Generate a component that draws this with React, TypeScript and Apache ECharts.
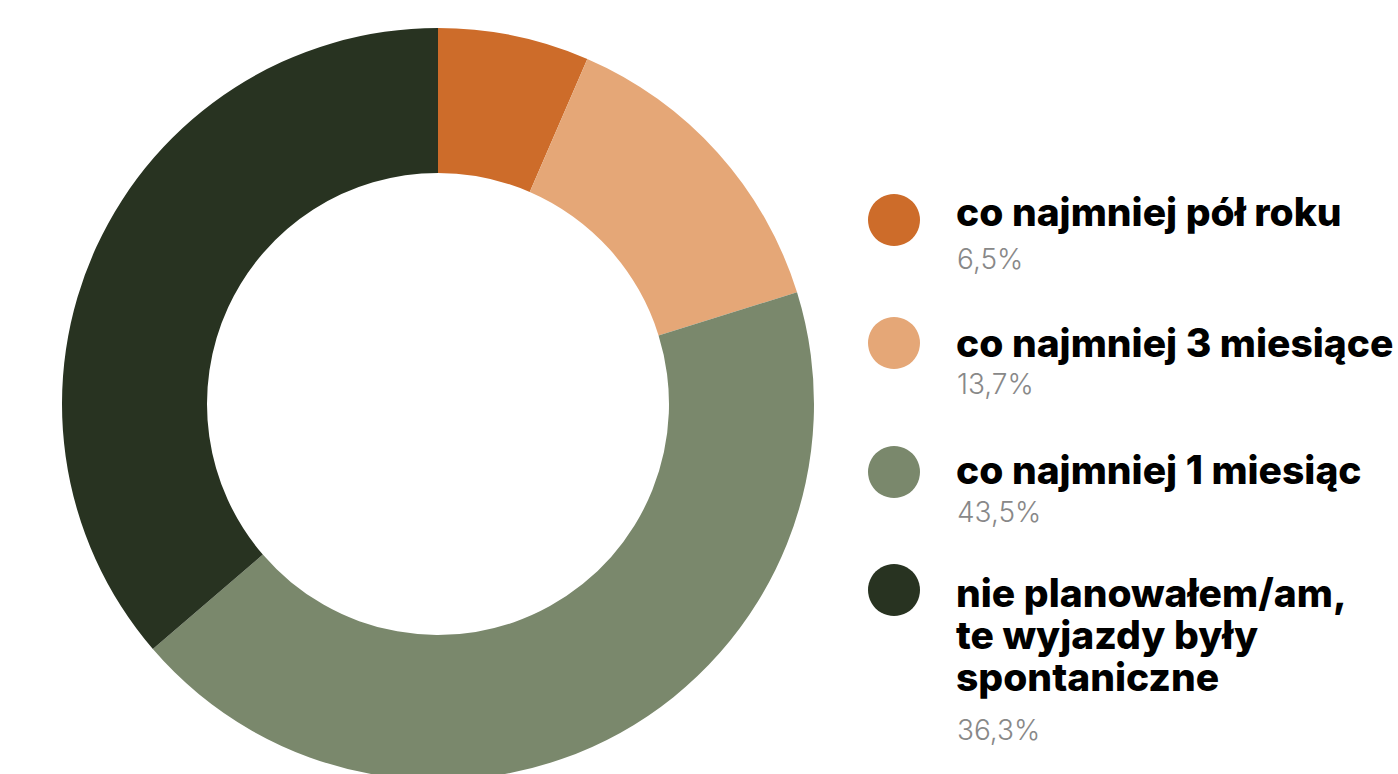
import React, { useEffect, useRef } from "react";
import * as echarts from "echarts";

const categories = [
  "co najmniej pół roku",
  "co najmniej 3 miesiące",
  "co najmniej 1 miesiąc",
  "nie planowałem/am,\nte wyjazdy były\nspontaniczne",
];
const values = [6.5, 13.7, 43.5, 36.3];
const valueLabels = ["6,5%", "13,7%", "43,5%", "36,3%"];
const colors = ["#CD6C2A", "#E5A777", "#7A886C", "#283321"];

// layout (pixels)
const titleTops = [190, 321, 448, 571];
const valueCenters = [259, 384, 512, 730];
const dotCenters = [220, 343, 472, 590];

export default function App() {
  const ref = useRef<HTMLDivElement>(null);
  useEffect(() => {
    if (!ref.current) return;
    const chart = echarts.init(ref.current, null, { renderer: "svg" });
    const graphic: any[] = [];
    categories.forEach((c, i) => {
      graphic.push({
        type: "circle",
        shape: { cx: 894, cy: dotCenters[i], r: 26 },
        style: { fill: colors[i] },
      });
      graphic.push({
        type: "text",
        x: 956,
        y: titleTops[i],
        style: {
          text: c,
          fill: "#000",
          font: "800 39px Inter",
          lineHeight: 42,
          verticalAlign: "top",
          align: "left",
        },
      });
      graphic.push({
        type: "text",
        x: 957,
        y: valueCenters[i],
        style: {
          text: valueLabels[i],
          fill: "#888888",
          font: "300 28px Inter",
          verticalAlign: "middle",
          align: "left",
        },
      });
    });
    chart.setOption({
      animation: false,
      backgroundColor: "#ffffff",
      graphic,
      series: [
        {
          type: "pie",
          center: [438, 404],
          radius: [231, 376],
          startAngle: 90,
          clockwise: true,
          label: { show: false },
          labelLine: { show: false },
          emphasis: { disabled: true },
          data: categories.map((c, i) => ({
            name: c,
            value: values[i],
            itemStyle: { color: colors[i] },
          })),
        },
      ],
    });
    return () => chart.dispose();
  }, []);
  return (
    <div
      ref={ref}
      style={{ position: "fixed", left: 0, top: 0, width: 1398, height: 774 }}
    />
  );
}
